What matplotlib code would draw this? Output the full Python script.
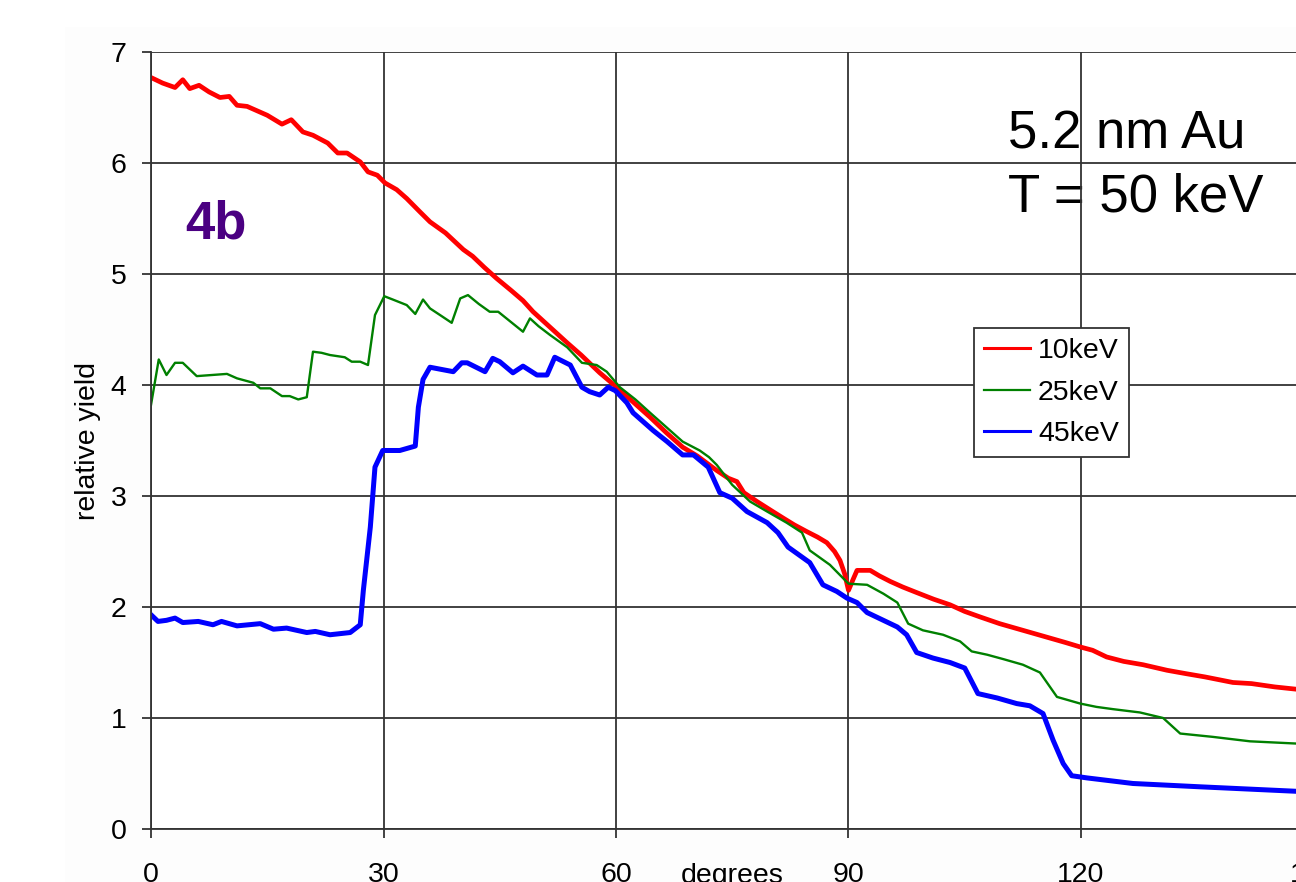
import matplotlib
matplotlib.use("Agg")
import matplotlib.pyplot as plt
from matplotlib.lines import Line2D
from matplotlib.patches import Rectangle

plt.rcParams['font.family'] = ['Liberation Sans', 'DejaVu Sans']

# angle (degrees) and relative yield for each implant energy
deg_10 = [0, 1.5, 3.1, 4.1, 5.0, 6.2, 7.5, 8.9, 10.1, 11.1, 12.4, 15.0, 16.9, 18.1,
          19.6, 20.9, 22.8, 24.1, 25.3, 27.0, 28.0, 29.2, 30.2, 31.7, 33.0, 34.7,
          36.0, 38.0, 40.3, 41.5, 43.0, 44.6, 46.5, 48.0, 49.3, 51.5, 53.7, 55.5,
          57.9, 60.1, 62.0, 64.4, 66.5, 68.6, 70.5, 73.0, 74.5, 75.6, 76.5, 78.2,
          80.0, 81.6, 83.0, 84.6, 86.0, 87.2, 88.2, 88.9, 89.5, 90.0, 90.6, 91.1,
          92.8, 94.0, 95.4, 97.0, 98.8, 101.0, 103.1, 105.0, 107.0, 109.5, 112.0,
          114.0, 116.0, 118.0, 119.9, 121.5, 123.3, 125.5, 128.0, 131.1, 133.5,
          136.0, 139.6, 142.0, 145.0, 147.7, 150.0]
yield_10 = [6.77, 6.72, 6.68, 6.75, 6.67, 6.70, 6.64, 6.59, 6.60, 6.52, 6.51, 6.43,
            6.35, 6.39, 6.28, 6.25, 6.18, 6.09, 6.09, 6.01, 5.92, 5.89, 5.82, 5.76,
            5.68, 5.56, 5.47, 5.37, 5.22, 5.16, 5.06, 4.96, 4.85, 4.76, 4.66, 4.52,
            4.38, 4.27, 4.11, 3.98, 3.86, 3.71, 3.57, 3.44, 3.36, 3.23, 3.16, 3.13,
            3.03, 2.95, 2.87, 2.80, 2.74, 2.68, 2.63, 2.58, 2.50, 2.42, 2.30, 2.15,
            2.25, 2.33, 2.33, 2.28, 2.23, 2.18, 2.13, 2.07, 2.02, 1.96, 1.91, 1.85,
            1.80, 1.76, 1.72, 1.68, 1.64, 1.61, 1.55, 1.51, 1.48, 1.43, 1.40, 1.37,
            1.32, 1.31, 1.28, 1.26, 1.25]

deg_25 = [0, 1.0, 2.0, 3.1, 4.1, 5.9, 9.8, 11.1, 13.2, 14.1, 15.4, 16.9, 17.9, 19.0,
          20.1, 20.9, 22.0, 23.1, 25.0, 25.9, 27.0, 28.0, 28.9, 30.1, 31.2, 33.0,
          34.1, 35.1, 36.0, 37.3, 38.8, 39.9, 40.9, 42.3, 43.7, 44.8, 46.4, 48.0,
          48.9, 50.0, 51.5, 53.7, 55.6, 57.5, 58.8, 60.5, 62.5, 64.4, 66.5, 68.6,
          70.8, 72.0, 73.0, 75.0, 77.3, 79.5, 82.0, 84.0, 85.0, 87.6, 90.0, 92.4,
          94.5, 96.3, 97.7, 99.6, 102.2, 104.4, 105.9, 107.9, 110.0, 112.5, 114.7,
          116.9, 119.9, 122.0, 124.1, 127.6, 130.6, 132.8, 137.0, 141.8, 147.7, 150.0]
yield_25 = [3.82, 4.23, 4.09, 4.20, 4.20, 4.08, 4.10, 4.06, 4.02, 3.97, 3.97, 3.90,
            3.90, 3.87, 3.89, 4.30, 4.29, 4.27, 4.25, 4.21, 4.21, 4.18, 4.63, 4.80,
            4.77, 4.72, 4.64, 4.77, 4.69, 4.63, 4.56, 4.78, 4.81, 4.73, 4.66, 4.66,
            4.57, 4.48, 4.60, 4.53, 4.45, 4.34, 4.20, 4.18, 4.12, 3.98, 3.87, 3.75,
            3.62, 3.49, 3.41, 3.35, 3.28, 3.10, 2.95, 2.86, 2.76, 2.67, 2.51, 2.38,
            2.21, 2.20, 2.12, 2.04, 1.85, 1.79, 1.75, 1.69, 1.60, 1.57, 1.53, 1.48,
            1.41, 1.19, 1.13, 1.10, 1.08, 1.05, 1.00, 0.86, 0.83, 0.79, 0.77, 0.76]

deg_45 = [0, 0.9, 2.0, 3.1, 4.1, 6.1, 8.0, 9.1, 11.1, 14.1, 15.8, 17.5, 20.1, 21.2,
          23.1, 25.7, 27.0, 27.4, 28.3, 28.9, 29.9, 32.1, 34.1, 34.5, 35.1, 36.0,
          39.0, 40.1, 40.8, 43.1, 44.1, 45.0, 46.7, 48.0, 49.8, 51.1, 52.1, 54.1,
          55.6, 56.6, 57.9, 59.0, 59.9, 61.4, 62.2, 64.8, 66.6, 68.6, 70.0, 71.9,
          73.4, 75.0, 76.9, 79.5, 80.9, 82.2, 85.0, 86.7, 88.5, 89.8, 91.1, 92.4,
          94.5, 96.3, 97.5, 98.8, 100.9, 103.1, 105.0, 106.7, 109.2, 111.7, 113.4,
          115.1, 116.4, 117.7, 118.8, 120.8, 126.7, 135.4, 147.7, 150.0]
yield_45 = [1.93, 1.87, 1.88, 1.90, 1.86, 1.87, 1.84, 1.87, 1.83, 1.85, 1.80, 1.81,
            1.77, 1.78, 1.75, 1.77, 1.84, 2.15, 2.72, 3.26, 3.41, 3.41, 3.45, 3.80,
            4.05, 4.16, 4.12, 4.20, 4.20, 4.12, 4.24, 4.21, 4.11, 4.17, 4.09, 4.09,
            4.25, 4.18, 3.98, 3.94, 3.91, 3.98, 3.95, 3.84, 3.75, 3.59, 3.49, 3.37,
            3.37, 3.26, 3.03, 2.98, 2.86, 2.76, 2.67, 2.54, 2.40, 2.20, 2.14, 2.08,
            2.04, 1.95, 1.88, 1.82, 1.75, 1.59, 1.54, 1.50, 1.45, 1.22, 1.18, 1.13,
            1.11, 1.04, 0.80, 0.59, 0.48, 0.46, 0.41, 0.38, 0.34, 0.34]

labels = ['10keV', '25keV', '45keV']
colors = ['#ff0000', '#008000', '#0000ff']

W, H = 1296, 882
fig = plt.figure(figsize=(W / 100, H / 100), dpi=100)
fig.patches.append(Rectangle((65 / W, 0), 1, 1 - 27 / H, transform=fig.transFigure,
                             facecolor='#fdfdfd', edgecolor='none', zorder=-5))

# the plot area runs past the right edge of the page
ax = fig.add_axes([151 / W, 53 / H, 1162.5 / W, 777 / H])
ax.set_facecolor('white')

ax.plot(deg_10, yield_10, color=colors[0], lw=3.4)
ax.plot(deg_25, yield_25, color=colors[1], lw=1.7)
ax.plot(deg_45, yield_45, color=colors[2], lw=3.6)

ax.set_xlim(0, 150)
ax.set_ylim(0, 7)
ax.set_xticks(range(0, 151, 30))
ax.set_yticks(range(0, 8))
ax.grid(True, color='#333333', lw=1.3)
ax.set_axisbelow(True)
for side in ['top', 'right']:
    ax.spines[side].set_visible(False)
for side in ['left', 'bottom']:
    ax.spines[side].set_color('#333333')
    ax.spines[side].set_linewidth(1.3)
ax.tick_params(axis='both', direction='out', length=6.5, width=1.3,
               color='#333333', labelsize=20.5)
ax.tick_params(axis='x', pad=17)
ax.tick_params(axis='y', pad=11)

ax.set_xlabel('degrees', fontsize=20.5)
ax.xaxis.set_label_coords(0.5, -0.044)
ax.xaxis.label.set_va('top')
ax.set_ylabel('relative yield', fontsize=20.5)
ax.yaxis.set_label_coords(-0.043, 0.5)

ax.text(4.4, 5.32, '4b', fontsize=38, fontweight='bold', color='#4b0082',
        va='baseline', zorder=0.3)
ax.text(110.6, 6.135, '5.2 nm Au', fontsize=38, va='baseline', zorder=0.3)
ax.text(110.6, 5.56, 'T = 50 keV', fontsize=38, va='baseline', zorder=0.3)

handles = [Line2D([], [], color=colors[0], lw=2.2),
           Line2D([], [], color=colors[1], lw=1.6),
           Line2D([], [], color=colors[2], lw=2.2)]
ax.legend(handles, labels, loc='upper left',
          bbox_to_anchor=(974 / W, 1 - 328 / H), bbox_transform=fig.transFigure,
          borderaxespad=0, fontsize=20.5, frameon=True, fancybox=False,
          edgecolor='#333333', framealpha=1, handlelength=1.6,
          handletextpad=0.3, labelspacing=0.55, borderpad=0.35)
ax.get_legend().get_frame().set_linewidth(1.3)

fig.savefig('out.png', dpi=100)
